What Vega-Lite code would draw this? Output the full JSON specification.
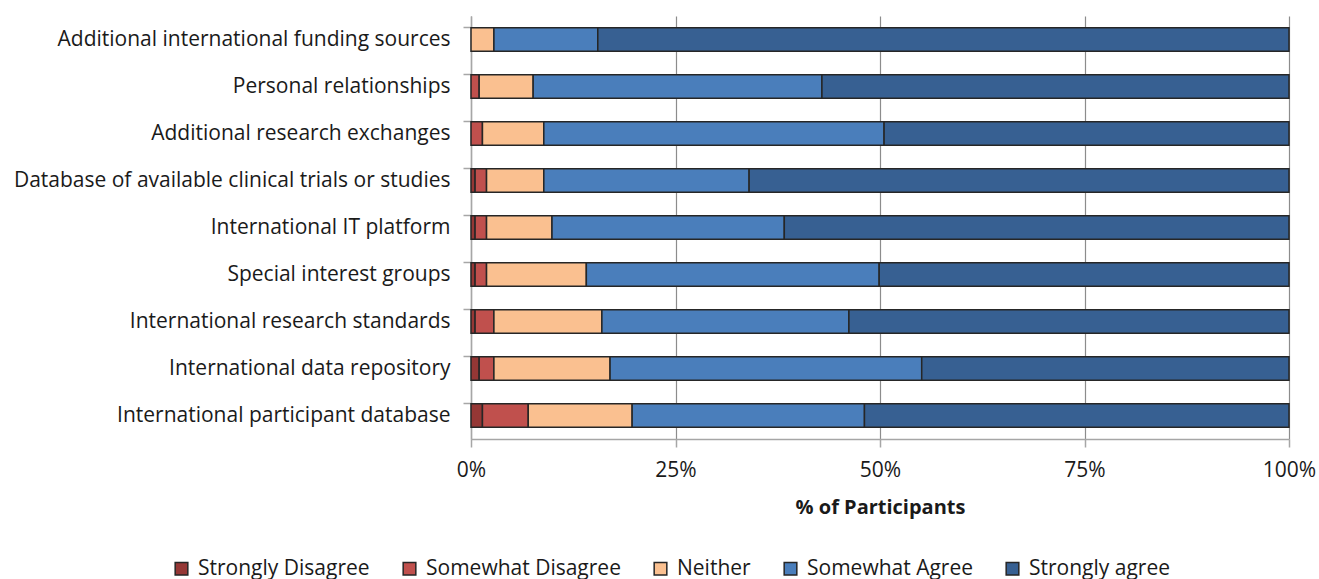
{
  "$schema": "https://vega.github.io/schema/vega-lite/v6.json",
  "width": 818,
  "height": 423,
  "padding": {"left": 13, "top": 16, "right": 5, "bottom": 5},
  "background": "white",
  "config": {"font": "Open Sans", "view": {"stroke": null}},
  "data": {"values": [
    {"item": "Additional international funding sources", "response": "Neither", "o": 3, "value": 2.8},
    {"item": "Additional international funding sources", "response": "Somewhat Agree", "o": 4, "value": 12.7},
    {"item": "Additional international funding sources", "response": "Strongly agree", "o": 5, "value": 84.5},
    {"item": "Personal relationships", "response": "Somewhat Disagree", "o": 2, "value": 1.0},
    {"item": "Personal relationships", "response": "Neither", "o": 3, "value": 6.6},
    {"item": "Personal relationships", "response": "Somewhat Agree", "o": 4, "value": 35.3},
    {"item": "Personal relationships", "response": "Strongly agree", "o": 5, "value": 57.1},
    {"item": "Additional research exchanges", "response": "Somewhat Disagree", "o": 2, "value": 1.4},
    {"item": "Additional research exchanges", "response": "Neither", "o": 3, "value": 7.5},
    {"item": "Additional research exchanges", "response": "Somewhat Agree", "o": 4, "value": 41.6},
    {"item": "Additional research exchanges", "response": "Strongly agree", "o": 5, "value": 49.5},
    {"item": "Database of available clinical trials or studies", "response": "Strongly Disagree", "o": 1, "value": 0.5},
    {"item": "Database of available clinical trials or studies", "response": "Somewhat Disagree", "o": 2, "value": 1.4},
    {"item": "Database of available clinical trials or studies", "response": "Neither", "o": 3, "value": 7.0},
    {"item": "Database of available clinical trials or studies", "response": "Somewhat Agree", "o": 4, "value": 25.1},
    {"item": "Database of available clinical trials or studies", "response": "Strongly agree", "o": 5, "value": 66.0},
    {"item": "International IT platform", "response": "Strongly Disagree", "o": 1, "value": 0.5},
    {"item": "International IT platform", "response": "Somewhat Disagree", "o": 2, "value": 1.4},
    {"item": "International IT platform", "response": "Neither", "o": 3, "value": 8.0},
    {"item": "International IT platform", "response": "Somewhat Agree", "o": 4, "value": 28.4},
    {"item": "International IT platform", "response": "Strongly agree", "o": 5, "value": 61.7},
    {"item": "Special interest groups", "response": "Strongly Disagree", "o": 1, "value": 0.5},
    {"item": "Special interest groups", "response": "Somewhat Disagree", "o": 2, "value": 1.4},
    {"item": "Special interest groups", "response": "Neither", "o": 3, "value": 12.2},
    {"item": "Special interest groups", "response": "Somewhat Agree", "o": 4, "value": 35.8},
    {"item": "Special interest groups", "response": "Strongly agree", "o": 5, "value": 50.1},
    {"item": "International research standards", "response": "Strongly Disagree", "o": 1, "value": 0.5},
    {"item": "International research standards", "response": "Somewhat Disagree", "o": 2, "value": 2.3},
    {"item": "International research standards", "response": "Neither", "o": 3, "value": 13.2},
    {"item": "International research standards", "response": "Somewhat Agree", "o": 4, "value": 30.2},
    {"item": "International research standards", "response": "Strongly agree", "o": 5, "value": 53.8},
    {"item": "International data repository", "response": "Strongly Disagree", "o": 1, "value": 1.0},
    {"item": "International data repository", "response": "Somewhat Disagree", "o": 2, "value": 1.8},
    {"item": "International data repository", "response": "Neither", "o": 3, "value": 14.2},
    {"item": "International data repository", "response": "Somewhat Agree", "o": 4, "value": 38.1},
    {"item": "International data repository", "response": "Strongly agree", "o": 5, "value": 44.9},
    {"item": "International participant database", "response": "Strongly Disagree", "o": 1, "value": 1.4},
    {"item": "International participant database", "response": "Somewhat Disagree", "o": 2, "value": 5.6},
    {"item": "International participant database", "response": "Neither", "o": 3, "value": 12.7},
    {"item": "International participant database", "response": "Somewhat Agree", "o": 4, "value": 28.4},
    {"item": "International participant database", "response": "Strongly agree", "o": 5, "value": 51.9}
  ]},
  "mark": {"type": "bar", "stroke": "#262626", "strokeWidth": 1.5},
  "encoding": {
    "y": {
      "field": "item", "type": "nominal", "sort": null,
      "scale": {"paddingInner": 0.5, "paddingOuter": 0.25},
      "axis": {
        "title": null, "bandPosition": 0, "tickSize": 8, "tickColor": "#a6a6a6", "tickWidth": 1.5,
        "domainColor": "#a6a6a6", "domainWidth": 1.5, "labelFontSize": 21, "labelColor": "#1a1a1a",
        "labelPadding": 13, "labelLimit": 600, "grid": false
      }
    },
    "x": {
      "field": "value", "type": "quantitative", "stack": "zero",
      "scale": {"domain": [0, 100], "nice": false},
      "axis": {
        "title": "% of Participants", "titleFontSize": 20, "titleFontWeight": "bold", "titleColor": "#1a1a1a", "titlePadding": 17,
        "values": [0, 25, 50, 75, 100], "labelExpr": "datum.value + '%'", "labelFlush": false,
        "labelFontSize": 21, "labelColor": "#1a1a1a", "labelPadding": 12,
        "tickSize": 8, "tickColor": "#a6a6a6", "tickWidth": 1.5,
        "domainColor": "#a6a6a6", "domainWidth": 1.5,
        "grid": true, "gridColor": "#8c8c8c", "gridWidth": 1.2
      }
    },
    "color": {
      "field": "response", "type": "nominal",
      "scale": {
        "domain": ["Strongly Disagree", "Somewhat Disagree", "Neither", "Somewhat Agree", "Strongly agree"],
        "range": ["#953735", "#c0504d", "#fac090", "#4a7ebb", "#376092"]
      },
      "legend": {
        "title": null, "orient": "none", "direction": "horizontal", "legendX": -300, "legendY": 542,
        "symbolType": "square", "symbolSize": 160, "symbolStrokeColor": "#262626", "symbolStrokeWidth": 1.5,
        "labelFontSize": 21, "labelColor": "#1a1a1a", "columnPadding": 29, "labelOffset": 6, "labelLimit": 400
      }
    },
    "order": {"field": "o", "type": "quantitative"}
  }
}
